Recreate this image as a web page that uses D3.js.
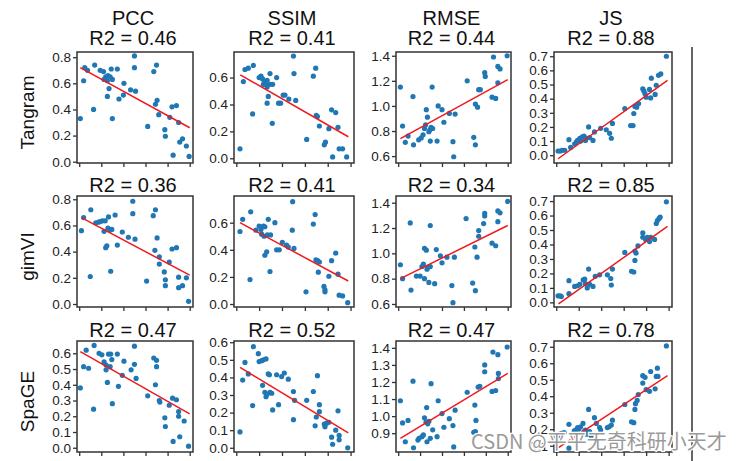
<!DOCTYPE html>
<html><head><meta charset="utf-8">
<script src="https://cdn.jsdelivr.net/npm/d3@7"></script>
<style>body{margin:0;background:#fff;} svg{display:block;}</style>
</head><body><svg id="chart" width="738" height="461"></svg>
<script>
const methods = ["Tangram", "gimVI", "SpaGE"];
const metrics = ["PCC", "SSIM", "RMSE", "JS"];
const r2Values = [[0.46, 0.41, 0.44, 0.88], [0.36, 0.41, 0.34, 0.85], [0.47, 0.52, 0.47, 0.78]];
const xTicks = [0, 0.2, 0.4, 0.6, 0.8, 1.0];
const xDomain = [-0.02, 1.03];

// y tick values per panel
const ticksPcc = [0, 0.2, 0.4, 0.6, 0.8];
const ticksSsim = [0, 0.2, 0.4, 0.6];
const ticksRmse = [0.6, 0.8, 1.0, 1.2, 1.4];
const ticksJs = [0, 0.1, 0.2, 0.3, 0.4, 0.5, 0.6, 0.7];
const ticksSpagePcc = [0, 0.1, 0.2, 0.3, 0.4, 0.5, 0.6];
const ticksSpageSsim = [0, 0.1, 0.2, 0.3, 0.4, 0.5, 0.6];
const ticksSpageRmse = [0.9, 1.0, 1.1, 1.2, 1.3, 1.4];
const ticksSpageJs = [0.1, 0.2, 0.3, 0.4, 0.5, 0.6, 0.7];

// y domains per panel
const domainsTangram = [[-0.01, 0.84], [-0.035, 0.79], [0.545, 1.43], [-0.055, 0.73]];
const domainsGimvi = [[-0.023, 0.825], [-0.022, 0.797], [0.576, 1.453], [-0.032, 0.735]];
const domainsSpage = [[-0.027, 0.678], [-0.024, 0.607], [0.79, 1.44], [0.062, 0.735]];

// points [x, y]
const tangramPCC = [[0.01,0.33],[0.04,0.62],[0.05,0.72],[0.075,0.70],[0.13,0.40],[0.14,0.74],[0.19,0.70],[0.22,0.69],[0.225,0.63],[0.24,0.65],[0.255,0.62],[0.26,0.66],[0.28,0.65],[0.29,0.71],[0.255,0.50],[0.27,0.56],[0.30,0.63],[0.30,0.33],[0.345,0.71],[0.36,0.48],[0.405,0.60],[0.40,0.51],[0.465,0.55],[0.51,0.54],[0.50,0.81],[0.50,0.72],[0.62,0.27],[0.675,0.69],[0.70,0.74],[0.705,0.47],[0.69,0.44],[0.72,0.36],[0.775,0.245],[0.78,0.195],[0.82,0.34],[0.84,0.42],[0.88,0.43],[0.85,0.05],[0.90,0.30],[0.91,0.15],[0.935,0.175],[0.97,0.12],[0.995,0.04]];
const tangramSSIM = [[0.0325,0.07],[0.062,0.57],[0.076,0.66],[0.105,0.67],[0.15,0.69],[0.143,0.33],[0.20,0.60],[0.216,0.61],[0.23,0.59],[0.25,0.57],[0.237,0.55],[0.26,0.55],[0.27,0.58],[0.27,0.53],[0.295,0.63],[0.295,0.55],[0.28,0.46],[0.27,0.41],[0.315,0.26],[0.318,0.55],[0.353,0.60],[0.37,0.41],[0.388,0.41],[0.41,0.47],[0.426,0.47],[0.46,0.44],[0.50,0.76],[0.505,0.63],[0.52,0.43],[0.616,0.14],[0.674,0.61],[0.695,0.67],[0.70,0.32],[0.71,0.31],[0.727,0.24],[0.77,0.10],[0.78,0.12],[0.81,0.22],[0.834,0.36],[0.87,0.34],[0.843,0.01],[0.89,0.23],[0.90,0.07],[0.93,0.07],[0.966,0.01]];
const tangramRMSE = [[0.02,1.15],[0.04,0.84],[0.065,0.71],[0.09,0.76],[0.135,1.075],[0.14,0.69],[0.187,0.73],[0.21,0.745],[0.227,0.77],[0.24,0.82],[0.25,0.85],[0.257,0.97],[0.267,0.91],[0.28,0.795],[0.29,0.81],[0.30,0.83],[0.293,0.72],[0.315,0.82],[0.31,1.15],[0.355,0.72],[0.365,1.0],[0.40,0.97],[0.417,0.87],[0.467,0.94],[0.50,0.715],[0.507,0.595],[0.52,0.935],[0.63,1.20],[0.69,0.75],[0.705,0.69],[0.705,1.015],[0.725,0.99],[0.735,1.13],[0.75,1.13],[0.79,1.265],[0.795,1.235],[0.857,1.07],[0.87,1.39],[0.89,1.06],[0.91,1.315],[0.93,1.295],[0.91,1.185],[0.995,1.40]];
const tangramJS = [[0.016,0.03],[0.036,0.03],[0.054,0.035],[0.075,0.035],[0.113,0.11],[0.128,0.055],[0.164,0.08],[0.18,0.095],[0.19,0.105],[0.21,0.12],[0.217,0.10],[0.232,0.13],[0.247,0.135],[0.26,0.105],[0.268,0.12],[0.288,0.20],[0.297,0.125],[0.327,0.105],[0.34,0.165],[0.395,0.19],[0.445,0.18],[0.475,0.155],[0.49,0.12],[0.50,0.225],[0.61,0.33],[0.662,0.21],[0.683,0.21],[0.69,0.295],[0.70,0.345],[0.716,0.34],[0.733,0.365],[0.77,0.47],[0.78,0.455],[0.79,0.435],[0.80,0.41],[0.83,0.465],[0.84,0.405],[0.846,0.545],[0.88,0.43],[0.89,0.495],[0.91,0.565],[0.93,0.575],[0.98,0.70]];

const gimviPCC = [[0.02,0.56],[0.04,0.66],[0.105,0.72],[0.10,0.21],[0.15,0.62],[0.175,0.625],[0.19,0.63],[0.21,0.635],[0.235,0.635],[0.265,0.665],[0.225,0.555],[0.24,0.43],[0.25,0.445],[0.26,0.58],[0.28,0.565],[0.295,0.57],[0.285,0.25],[0.325,0.68],[0.345,0.45],[0.39,0.55],[0.445,0.51],[0.505,0.495],[0.485,0.785],[0.485,0.69],[0.61,0.175],[0.67,0.675],[0.69,0.72],[0.685,0.41],[0.705,0.505],[0.725,0.36],[0.725,0.305],[0.77,0.245],[0.78,0.185],[0.78,0.14],[0.815,0.32],[0.84,0.42],[0.88,0.43],[0.90,0.205],[0.90,0.125],[0.935,0.14],[0.97,0.20],[0.99,0.02]];
const gimviSSIM = [[0.0325,0.535],[0.056,0.625],[0.126,0.68],[0.12,0.18],[0.172,0.545],[0.20,0.575],[0.216,0.55],[0.237,0.575],[0.25,0.57],[0.222,0.515],[0.243,0.50],[0.28,0.625],[0.272,0.51],[0.25,0.36],[0.266,0.385],[0.295,0.24],[0.30,0.51],[0.338,0.60],[0.353,0.40],[0.376,0.40],[0.403,0.455],[0.44,0.435],[0.455,0.42],[0.493,0.755],[0.49,0.545],[0.505,0.41],[0.61,0.09],[0.674,0.59],[0.69,0.66],[0.697,0.325],[0.712,0.32],[0.727,0.31],[0.718,0.235],[0.767,0.13],[0.776,0.105],[0.776,0.09],[0.81,0.205],[0.834,0.32],[0.87,0.375],[0.89,0.22],[0.90,0.065],[0.93,0.06],[0.975,0.01]];
const gimviRMSE = [[0.02,0.91],[0.04,0.80],[0.11,1.24],[0.117,0.71],[0.166,0.82],[0.20,0.82],[0.217,0.895],[0.23,0.915],[0.24,1.04],[0.257,1.025],[0.24,0.80],[0.263,0.875],[0.27,0.89],[0.28,0.77],[0.293,0.895],[0.293,1.22],[0.333,0.76],[0.348,1.03],[0.385,0.98],[0.40,0.925],[0.445,0.97],[0.49,0.745],[0.50,0.61],[0.513,0.97],[0.62,1.275],[0.68,0.765],[0.70,1.05],[0.705,0.705],[0.72,0.97],[0.735,1.18],[0.735,1.135],[0.78,1.235],[0.79,1.315],[0.79,1.295],[0.857,1.08],[0.89,1.06],[0.91,1.335],[0.93,1.32],[0.91,1.25],[1.0,1.41]];
const gimviJS = [[0.016,0.045],[0.036,0.045],[0.045,0.04],[0.113,0.15],[0.113,0.06],[0.164,0.11],[0.19,0.115],[0.21,0.125],[0.24,0.155],[0.253,0.16],[0.26,0.13],[0.276,0.10],[0.288,0.23],[0.297,0.125],[0.327,0.11],[0.347,0.18],[0.386,0.19],[0.455,0.19],[0.485,0.165],[0.49,0.12],[0.50,0.23],[0.61,0.345],[0.67,0.215],[0.69,0.21],[0.70,0.29],[0.70,0.355],[0.71,0.34],[0.727,0.39],[0.77,0.48],[0.77,0.45],[0.795,0.435],[0.81,0.45],[0.83,0.42],[0.84,0.45],[0.875,0.435],[0.89,0.545],[0.90,0.565],[0.915,0.58],[0.925,0.59],[0.98,0.695]];

const spagePCC = [[0.01,0.38],[0.04,0.515],[0.063,0.62],[0.085,0.505],[0.135,0.65],[0.13,0.245],[0.18,0.60],[0.205,0.59],[0.225,0.545],[0.243,0.525],[0.243,0.495],[0.255,0.415],[0.265,0.595],[0.28,0.515],[0.285,0.595],[0.295,0.56],[0.30,0.28],[0.345,0.595],[0.355,0.39],[0.39,0.46],[0.405,0.55],[0.47,0.495],[0.50,0.53],[0.50,0.645],[0.515,0.44],[0.62,0.33],[0.675,0.57],[0.70,0.555],[0.70,0.515],[0.69,0.40],[0.725,0.30],[0.73,0.29],[0.775,0.19],[0.78,0.135],[0.815,0.27],[0.845,0.315],[0.88,0.305],[0.85,0.04],[0.90,0.23],[0.90,0.20],[0.91,0.07],[0.95,0.17],[0.99,0.01]];
const spageSSIM = [[0.0325,0.09],[0.056,0.385],[0.076,0.485],[0.105,0.42],[0.143,0.24],[0.15,0.575],[0.193,0.535],[0.20,0.49],[0.222,0.495],[0.237,0.50],[0.26,0.505],[0.23,0.355],[0.25,0.315],[0.26,0.29],[0.27,0.305],[0.28,0.42],[0.29,0.415],[0.295,0.315],[0.31,0.31],[0.318,0.215],[0.353,0.415],[0.37,0.245],[0.397,0.405],[0.42,0.425],[0.455,0.39],[0.50,0.32],[0.50,0.16],[0.51,0.27],[0.616,0.27],[0.674,0.32],[0.69,0.125],[0.70,0.175],[0.71,0.41],[0.727,0.245],[0.727,0.205],[0.77,0.135],[0.776,0.12],[0.79,0.14],[0.81,0.145],[0.834,0.06],[0.843,0.02],[0.87,0.10],[0.89,0.21],[0.90,0.07],[0.90,0.045],[0.975,0.0]];
const spageRMSE = [[0.02,1.09],[0.04,0.96],[0.065,0.85],[0.09,0.975],[0.135,1.205],[0.14,0.815],[0.18,0.86],[0.19,0.87],[0.217,0.88],[0.23,0.89],[0.24,0.99],[0.254,0.965],[0.26,1.05],[0.27,0.955],[0.28,0.97],[0.263,0.85],[0.293,0.87],[0.30,1.19],[0.315,0.92],[0.355,0.88],[0.365,1.09],[0.40,1.015],[0.417,0.935],[0.467,0.985],[0.50,0.945],[0.507,0.82],[0.52,1.035],[0.63,1.14],[0.69,0.905],[0.705,0.91],[0.70,1.065],[0.71,0.975],[0.73,1.17],[0.745,1.175],[0.79,1.30],[0.79,1.26],[0.857,1.145],[0.865,1.375],[0.89,1.15],[0.91,1.36],[0.915,1.25],[0.915,1.22],[0.995,1.405]];
const spageJS = [[0.02,0.13],[0.03,0.16],[0.045,0.175],[0.07,0.18],[0.113,0.23],[0.113,0.085],[0.16,0.19],[0.173,0.195],[0.19,0.21],[0.20,0.20],[0.217,0.215],[0.238,0.235],[0.247,0.185],[0.26,0.195],[0.268,0.17],[0.288,0.32],[0.297,0.185],[0.31,0.16],[0.34,0.27],[0.357,0.235],[0.386,0.21],[0.395,0.195],[0.455,0.21],[0.47,0.215],[0.49,0.225],[0.50,0.255],[0.61,0.35],[0.67,0.245],[0.69,0.24],[0.70,0.32],[0.705,0.355],[0.72,0.375],[0.73,0.41],[0.77,0.48],[0.77,0.525],[0.79,0.515],[0.80,0.44],[0.83,0.43],[0.84,0.55],[0.88,0.445],[0.89,0.52],[0.90,0.57],[0.905,0.52],[0.98,0.705]];

// fitted regression lines [[x0,y0],[x1,y1]]
const fitsTangram = [[[0.01,0.72],[1.0,0.26]], [[0.035,0.62],[0.98,0.16]], [[0.02,0.74],[1.0,1.21]], [[0.016,-0.025],[0.99,0.53]]];
const fitsGimvi = [[[0.02,0.66],[1.0,0.22]], [[0.0325,0.60],[0.98,0.17]], [[0.02,0.80],[1.0,1.22]], [[0.02,-0.01],[0.99,0.525]]];
const fitsSpage = [[[0.01,0.61],[1.0,0.215]], [[0.0325,0.457],[0.98,0.085]], [[0.02,0.87],[1.0,1.25]], [[0.02,0.088],[0.99,0.525]]];

const watermark = "CSDN @平平无奇科研小天才";

// ---------- layout ----------
const colLeft = [77, 234, 396, 554];
const colWidth = [116, 120, 115, 118];
const rowTop = [52, 196, 341];
const ph = 111;
const titleBaseline = [45, 192, 337];
const font = "'Liberation Sans', Arial, sans-serif";

const pointsGrid = [[tangramPCC, tangramSSIM, tangramRMSE, tangramJS],[gimviPCC, gimviSSIM, gimviRMSE, gimviJS],[spagePCC, spageSSIM, spageRMSE, spageJS]];
const fitsGrid = [fitsTangram, fitsGimvi, fitsSpage];
const domainsGrid = [domainsTangram, domainsGimvi, domainsSpage];
const ticksGrid = [[ticksPcc, ticksSsim, ticksRmse, ticksJs],[ticksPcc, ticksSsim, ticksRmse, ticksJs],[ticksSpagePcc, ticksSpageSsim, ticksSpageRmse, ticksSpageJs]];

const svg = d3.select("#chart");
svg.append("rect").attr("width", 738).attr("height", 461).attr("fill", "#fff");

// column headers
metrics.forEach((m, c) => {
  svg.append("text").attr("x", colLeft[c] + colWidth[c] / 2 - 2).attr("y", 25)
    .attr("text-anchor", "middle").attr("font-family", font).attr("font-size", 20).attr("fill", "#111").text(m);
});

// row labels
methods.forEach((m, r) => {
  const cy = rowTop[r] + ph / 2 + 5;
  svg.append("text").attr("transform", `translate(34,${cy}) rotate(-90)`)
    .attr("text-anchor", "middle").attr("font-family", font).attr("font-size", 19).attr("fill", "#111").text(m);
});

for (let r = 0; r < 3; r++) {
  for (let c = 0; c < 4; c++) {
    const pw = colWidth[c];
    const g = svg.append("g").attr("transform", `translate(${colLeft[c]},${rowTop[r]})`);
    const x = d3.scaleLinear().domain(xDomain).range([0, pw]);
    const y = d3.scaleLinear().domain(domainsGrid[r][c]).range([ph, 0]);

    // title
    svg.append("text").attr("x", colLeft[c] + pw / 2 - 2).attr("y", titleBaseline[r])
      .attr("text-anchor", "middle").attr("font-family", font).attr("font-size", 20).attr("fill", "#111")
      .text(`R2 = ${r2Values[r][c].toFixed(2)}`);

    // axes
    const ya = g.append("g").call(d3.axisLeft(y).tickValues(ticksGrid[r][c]).tickFormat(d3.format(".1f")).tickSize(4).tickPadding(2));
    ya.select(".domain").remove();
    ya.selectAll("line").attr("stroke", "#333").attr("stroke-width", 1.3);
    ya.selectAll("text").attr("font-family", font).attr("font-size", 13.5).attr("fill", "#222");

    const xa = g.append("g").attr("transform", `translate(0,${ph})`)
      .call(d3.axisBottom(x).tickValues(xTicks).tickFormat("").tickSize(4));
    xa.select(".domain").remove();
    xa.selectAll("line").attr("stroke", "#333").attr("stroke-width", 1.3);

    // points
    g.append("g").selectAll("circle").data(pointsGrid[r][c]).join("circle")
      .attr("cx", d => x(d[0])).attr("cy", d => y(d[1])).attr("r", 2.6).attr("fill", "#1f77b4");

    // fit line
    g.append("path").datum(fitsGrid[r][c])
      .attr("d", d3.line().x(d => x(d[0])).y(d => y(d[1])))
      .attr("fill", "none").attr("stroke", "#f0191e").attr("stroke-width", 1.5);

    // frame
    g.append("rect").attr("x", 0).attr("y", 0).attr("width", pw).attr("height", ph)
      .attr("fill", "none").attr("stroke", "#333").attr("stroke-width", 1.5);
  }
}

// separator line at right
svg.append("line").attr("x1", 692).attr("x2", 692).attr("y1", 47).attr("y2", 461)
  .attr("stroke", "#555").attr("stroke-width", 1.8);

// watermark
svg.append("text").attr("x", 471).attr("y", 449)
  .attr("font-family", "'Noto Sans CJK SC', 'Liberation Sans', sans-serif").attr("font-size", 20)
  .attr("fill", "#9a9a9a").attr("stroke", "#fff").attr("stroke-width", 2.5).attr("paint-order", "stroke")
  .text(watermark);
</script></body></html>
